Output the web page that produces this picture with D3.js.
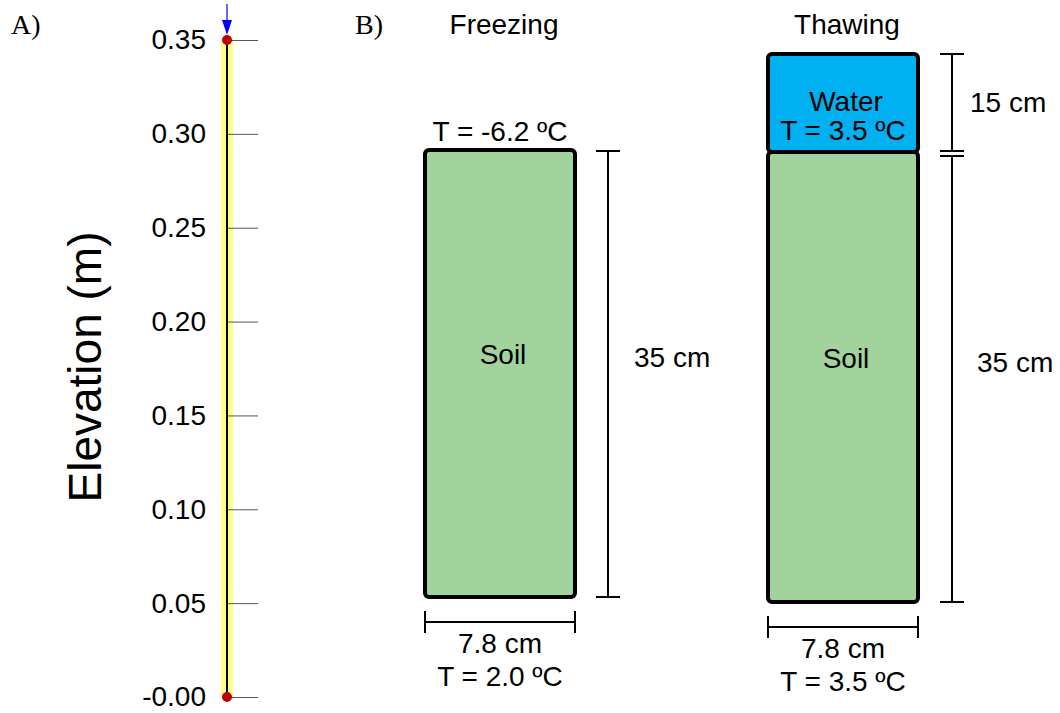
<!DOCTYPE html>
<html>
<head>
<meta charset="utf-8">
<script src="https://cdn.jsdelivr.net/npm/d3@7"></script>
<style>
  body { margin: 0; background: #fff; }
  text { font-family: Arial, "Liberation Sans", sans-serif; fill: #000; }
  .panel-tag { font-family: "Times New Roman", "Liberation Serif", serif; }
</style>
</head>
<body>
<div id="chart"></div>
<script>
// panel A: model column
const ELEV_TICKS = [0, 0.05, 0.10, 0.15, 0.20, 0.25, 0.30, 0.35];
const NODES = [0, 0.35];

// panel B: experiment setup
const COLUMNS = ["Freezing", "Thawing"];
const LAYER_COL = ["Freezing", "Thawing", "Thawing"];
const LAYER_NAME = ["Soil", "Soil", "Water"];
const LAYER_BOTTOM = [0, 0, 35];   // cm
const LAYER_TOP = [35, 35, 50];    // cm
const COL_WIDTH_CM = [7.8, 7.8];
const TOP_TEMP = ["T = -6.2 ºC", null];
const WATER_TEMP = [null, "T = 3.5 ºC"];
const BOTTOM_TEMP = ["T = 2.0 ºC", "T = 3.5 ºC"];

const W = 1060, H = 713;

const svg = d3.select("#chart").append("svg")
  .attr("width", W)
  .attr("height", H);

// ---------- Panel A ----------
svg.append("text").attr("class", "panel-tag")
  .attr("x", 11).attr("y", 34)
  .attr("font-size", "28px")
  .text("A)");

const Y_ELEV = d3.scaleLinear()
  .domain([0, 0.35])
  .range([697, 40]);

const COL_X = 227;

// yellow column
svg.append("rect")
  .attr("x", COL_X - 6).attr("width", 12)
  .attr("y", Y_ELEV(0.35)).attr("height", Y_ELEV(0) - Y_ELEV(0.35))
  .attr("fill", "#ffff88");

// axis at column, ticks pointing right
const axisA = svg.append("g")
  .attr("transform", "translate(" + COL_X + ",0)")
  .call(d3.axisRight(Y_ELEV)
    .tickValues(ELEV_TICKS)
    .tickSize(31)
    .tickFormat(d => d === 0 ? "-0.00" : d3.format(".2f")(d)));
axisA.select(".domain").remove();
axisA.selectAll(".tick line").attr("stroke", "#555").attr("stroke-width", 1);
axisA.selectAll(".tick text")
  .attr("x", -21)
  .attr("text-anchor", "end")
  .attr("font-family", "Arial, 'Liberation Sans', sans-serif")
  .attr("font-size", "28px");

// black centre line
svg.append("line")
  .attr("x1", COL_X).attr("x2", COL_X)
  .attr("y1", Y_ELEV(0.35)).attr("y2", Y_ELEV(0))
  .attr("stroke", "#000").attr("stroke-width", 2);

// nodes
svg.selectAll(".node")
  .data(NODES)
  .enter()
  .append("circle")
  .attr("class", "node")
  .attr("cx", COL_X)
  .attr("cy", d => Y_ELEV(d))
  .attr("r", 5)
  .attr("fill", "#c00000");

// blue arrow on top
svg.append("line")
  .attr("x1", COL_X).attr("x2", COL_X)
  .attr("y1", 4).attr("y2", 26)
  .attr("stroke", "#0000ff").attr("stroke-width", 1.2);
svg.append("path")
  .attr("d", "M" + (COL_X - 5) + ",20 L" + (COL_X + 5) + ",20 L" + COL_X + ",35 Z")
  .attr("fill", "#0000ff");

svg.append("text")
  .attr("transform", "translate(101,367) rotate(-90)")
  .attr("text-anchor", "middle")
  .attr("font-size", "46px")
  .text("Elevation (m)");

// ---------- Panel B ----------
svg.append("text").attr("class", "panel-tag")
  .attr("x", 355).attr("y", 34)
  .attr("font-size", "28px")
  .text("B)");

const X_COL = d3.scalePoint().domain(COLUMNS).range([500, 843]);
const W_CM = d3.scaleLinear().domain([0, 7.8]).range([0, 150]);
// depth scales (water part drawn on a broken scale)
const Y_COL = {
  Freezing: d3.scaleLinear().domain([0, 35, 50]).range([597, 150, 54]),
  Thawing: d3.scaleLinear().domain([0, 35, 50]).range([602, 152, 54])
};
const FILL = d3.scaleOrdinal().domain(["Soil", "Water"]).range(["#a3d39c", "#00b0f0"]);

const layers = LAYER_NAME.map((n, i) => ({
  col: LAYER_COL[i], name: n, bottom: LAYER_BOTTOM[i], top: LAYER_TOP[i]
}));

const FS = "28px";

// column titles
svg.selectAll(".col-title")
  .data(COLUMNS)
  .enter()
  .append("text")
  .attr("class", "col-title")
  .attr("x", d => X_COL(d) + 4)
  .attr("y", 24)
  .attr("dominant-baseline", "central")
  .attr("text-anchor", "middle")
  .attr("font-size", FS)
  .text(d => d);

// layer boxes
svg.selectAll(".layer")
  .data(layers)
  .enter()
  .append("rect")
  .attr("class", "layer")
  .attr("x", d => X_COL(d.col) - W_CM(7.8) / 2)
  .attr("width", W_CM(7.8))
  .attr("y", d => Y_COL[d.col](d.top))
  .attr("height", d => Y_COL[d.col](d.bottom) - Y_COL[d.col](d.top))
  .attr("rx", 4)
  .attr("fill", d => FILL(d.name))
  .attr("stroke", "#000")
  .attr("stroke-width", 4);

// layer labels
svg.selectAll(".layer-label")
  .data(layers)
  .enter()
  .append("text")
  .attr("class", "layer-label")
  .attr("x", d => X_COL(d.col) + 3)
  .attr("y", d => {
    const y = Y_COL[d.col];
    const mid = (y(d.bottom) + y(d.top)) / 2;
    return d.name === "Water" ? mid - 2 : mid - 19;
  })
  .attr("dominant-baseline", "central")
  .attr("text-anchor", "middle")
  .attr("font-size", FS)
  .text(d => d.name);

// water temperature
COLUMNS.forEach((c, i) => {
  if (WATER_TEMP[i]) {
    const y = Y_COL[c];
    svg.append("text")
      .attr("x", X_COL(c))
      .attr("y", (y(35) + y(50)) / 2 + 27)
      .attr("dominant-baseline", "central")
      .attr("text-anchor", "middle")
      .attr("font-size", FS)
      .text(WATER_TEMP[i]);
  }
  if (TOP_TEMP[i]) {
    svg.append("text")
      .attr("x", X_COL(c))
      .attr("y", Y_COL[c](35) - 19)
      .attr("dominant-baseline", "central")
      .attr("text-anchor", "middle")
      .attr("font-size", FS)
      .text(TOP_TEMP[i]);
  }
});

// vertical dimension bars
function vbar(x, y1, y2, capTop, capBottom) {
  svg.append("line")
    .attr("x1", x).attr("x2", x).attr("y1", y1).attr("y2", y2)
    .attr("stroke", "#000").attr("stroke-width", 2);
  if (capTop) svg.append("line")
    .attr("x1", x - 12).attr("x2", x + 12).attr("y1", y1).attr("y2", y1)
    .attr("stroke", "#000").attr("stroke-width", 2);
  if (capBottom) svg.append("line")
    .attr("x1", x - 12).attr("x2", x + 12).attr("y1", y2).attr("y2", y2)
    .attr("stroke", "#000").attr("stroke-width", 2);
}
function dimLabel(x, y, t) {
  svg.append("text")
    .attr("x", x).attr("y", y)
    .attr("dominant-baseline", "central")
    .attr("font-size", FS)
    .text(t);
}

// freezing: soil only
{
  const y = Y_COL.Freezing;
  const x = X_COL("Freezing") + W_CM(7.8) / 2 + 33;
  vbar(x, y(35) + 1, y(0), true, true);
  dimLabel(x + 26, (y(0) + y(35)) / 2 - 16, (LAYER_TOP[0] - LAYER_BOTTOM[0]) + " cm");
}
// thawing: water + soil with a break
{
  const y = Y_COL.Thawing;
  const x = X_COL("Thawing") + W_CM(7.8) / 2 + 34;
  vbar(x, y(50), y(35) - 1, true, true);
  vbar(x, y(35) + 4, y(0), true, true);
  dimLabel(x + 18, (y(50) + y(35)) / 2 - 1, (LAYER_TOP[2] - LAYER_BOTTOM[2]) + " cm");
  dimLabel(x + 25, (y(0) + y(35)) / 2 - 15, (LAYER_TOP[1] - LAYER_BOTTOM[1]) + " cm");
}

// horizontal width bars + bottom temps
COLUMNS.forEach((c, i) => {
  const cx = X_COL(c);
  const half = W_CM(COL_WIDTH_CM[i]) / 2;
  const yb = Y_COL[c](0) + 25;
  svg.append("line")
    .attr("x1", cx - half).attr("x2", cx + half).attr("y1", yb).attr("y2", yb)
    .attr("stroke", "#000").attr("stroke-width", 2);
  [cx - half, cx + half].forEach(xx => {
    svg.append("line")
      .attr("x1", xx).attr("x2", xx).attr("y1", yb - 11).attr("y2", yb + 11)
      .attr("stroke", "#000").attr("stroke-width", 2);
  });
  svg.append("text")
    .attr("x", cx).attr("y", yb + 21)
    .attr("dominant-baseline", "central")
    .attr("text-anchor", "middle")
    .attr("font-size", FS)
    .text(COL_WIDTH_CM[i] + " cm");
  svg.append("text")
    .attr("x", cx).attr("y", yb + 54)
    .attr("dominant-baseline", "central")
    .attr("text-anchor", "middle")
    .attr("font-size", FS)
    .text(BOTTOM_TEMP[i]);
});
</script>
</body>
</html>
